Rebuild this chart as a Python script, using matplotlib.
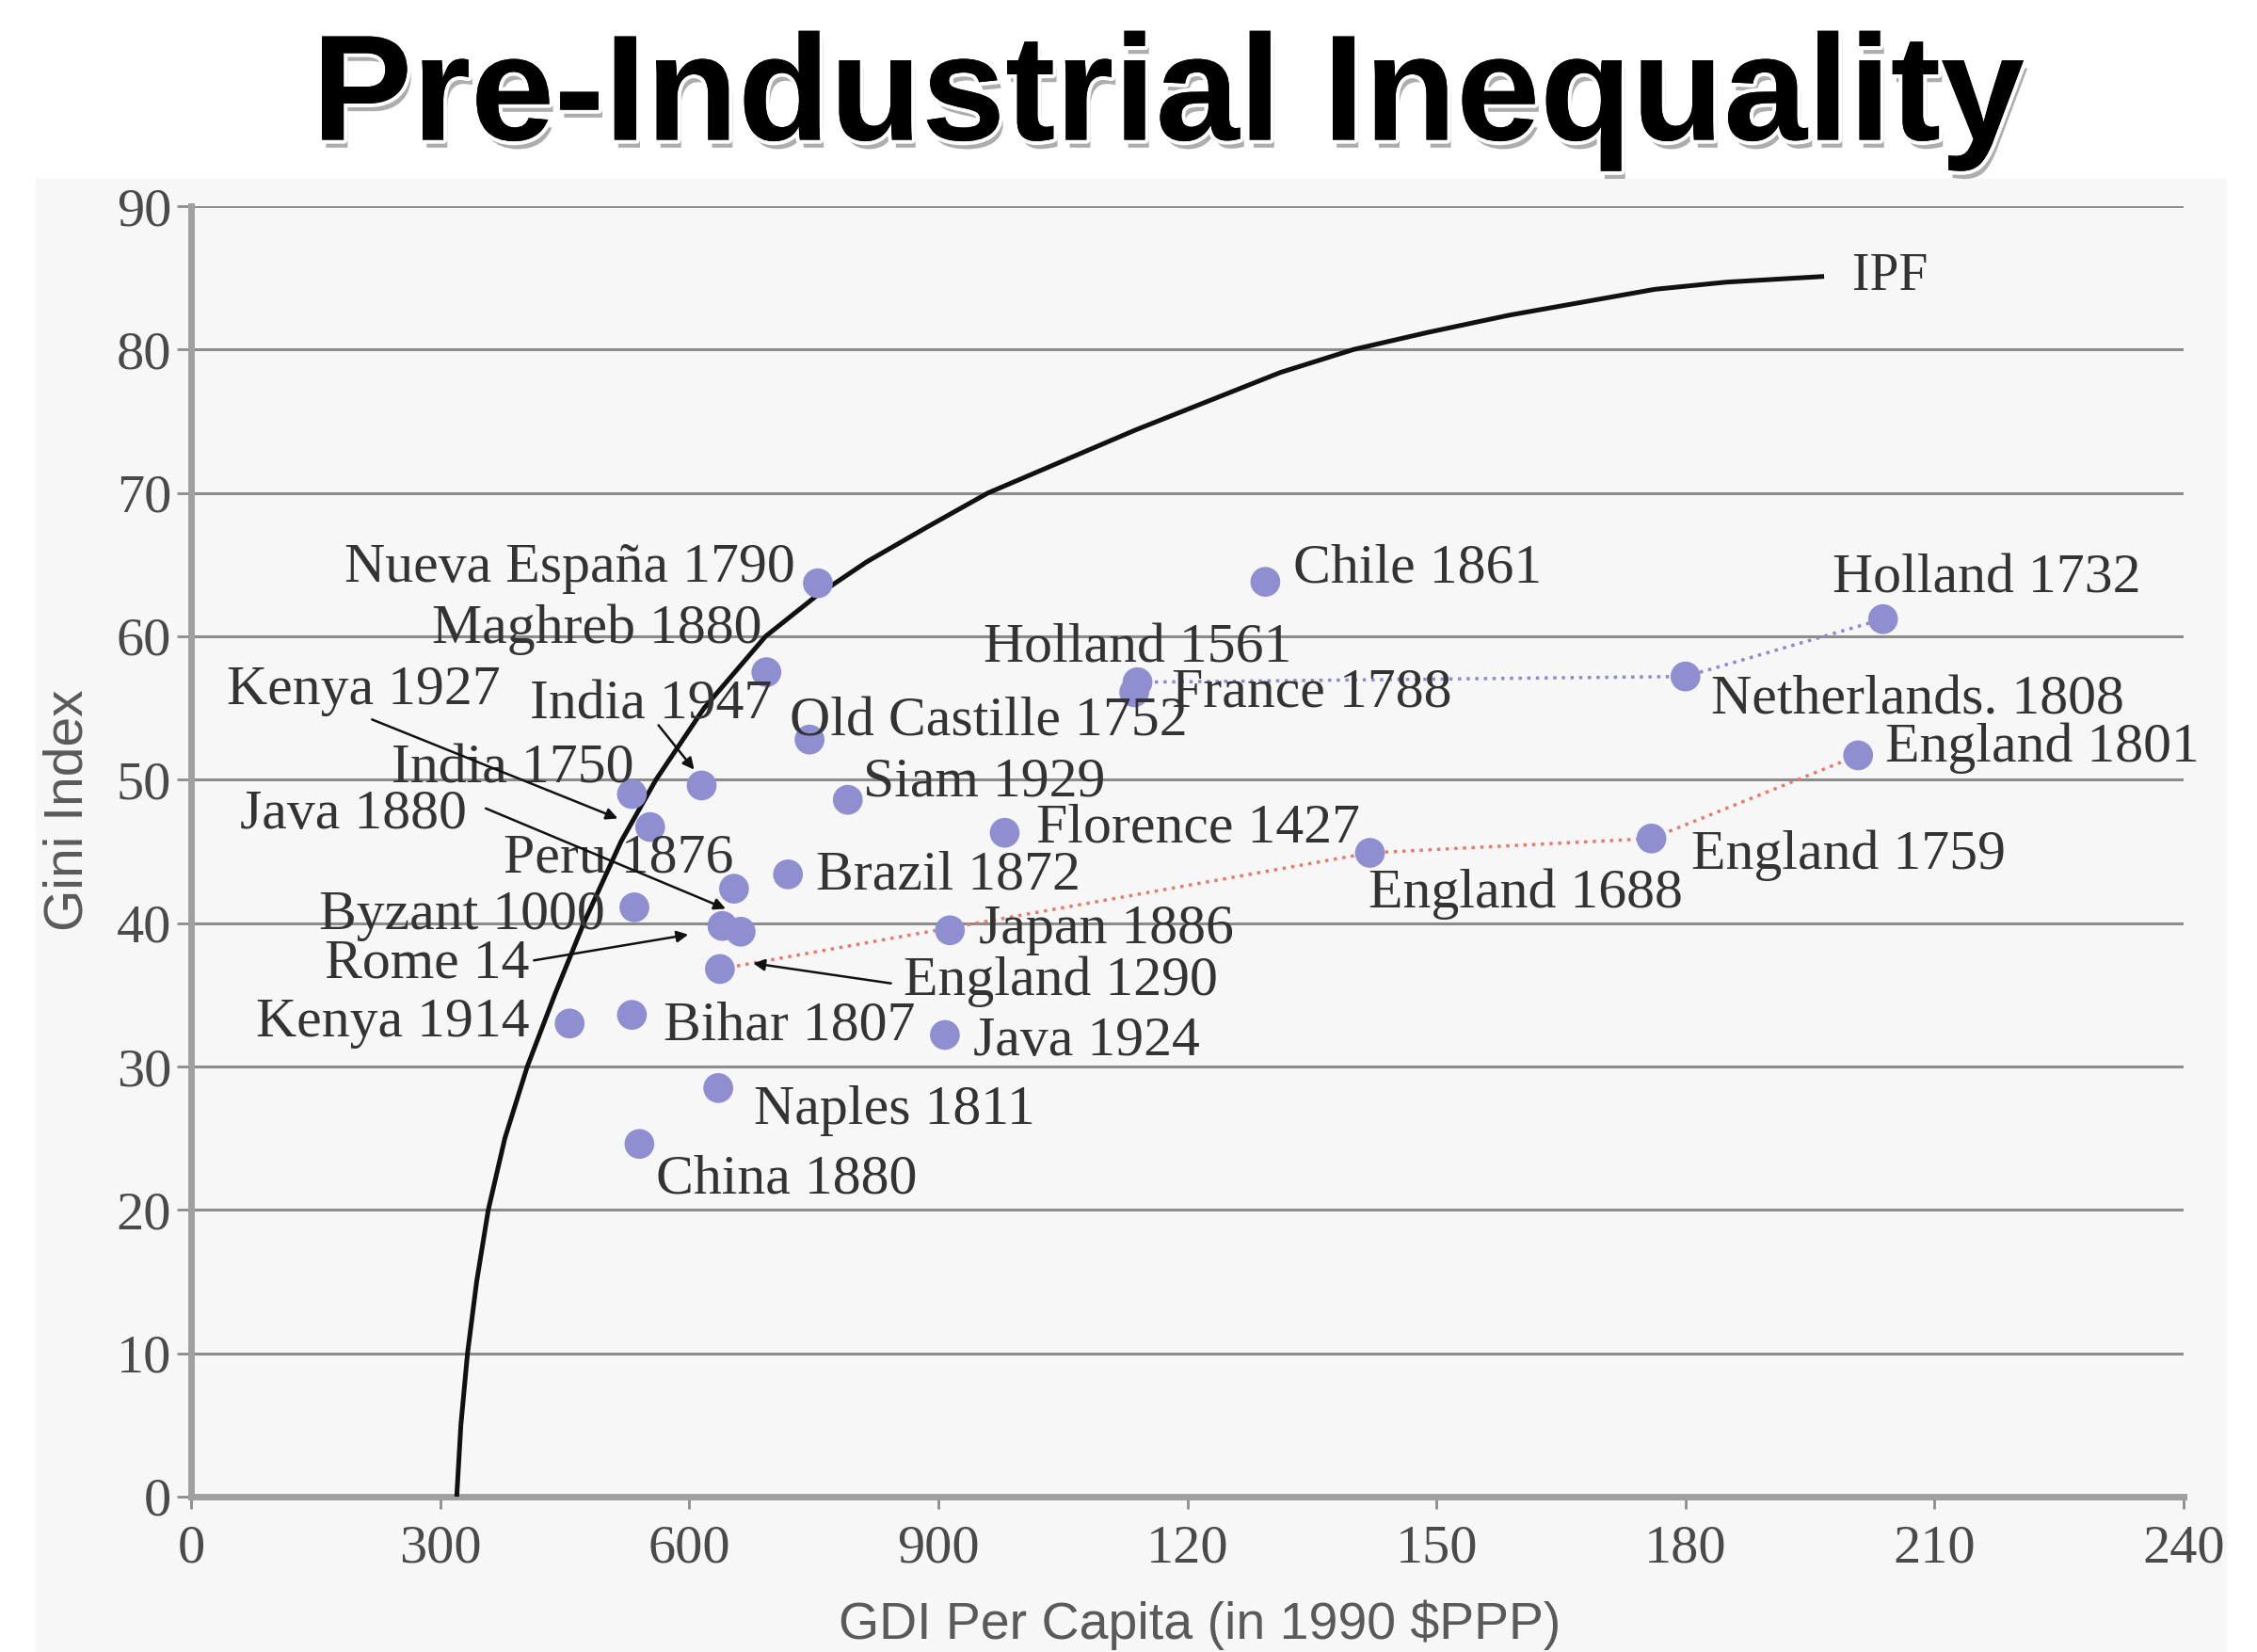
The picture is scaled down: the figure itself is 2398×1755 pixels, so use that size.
import matplotlib
matplotlib.use('Agg')
import matplotlib.pyplot as plt
import matplotlib.patheffects as pe
from matplotlib.patches import Rectangle

# data
names = ['Nueva España 1790', 'Maghreb 1880', 'Chile 1861', 'Holland 1732', 'Holland 1561',
         'France 1788', 'Netherlands. 1808', 'Old Castille 1752', 'India 1947', 'India 1750',
         'Kenya 1927', 'Siam 1929', 'Florence 1427', 'England 1801', 'England 1759',
         'England 1688', 'Peru 1876', 'Brazil 1872', 'Byzant 1000', 'Java 1880', 'Rome 14',
         'Japan 1886', 'England 1290', 'Kenya 1914', 'Bihar 1807', 'Java 1924',
         'Naples 1811', 'China 1880']
gdi = [755, 693, 1294, 2038, 1140, 1136, 1800, 745, 615, 531,
       553, 791, 980, 2008, 1759, 1420, 654, 719, 534, 640, 662,
       914, 637, 456, 531, 908, 635, 540]
gini = [63.7, 57.5, 63.8, 61.2, 56.8, 56.1, 57.2, 52.8, 49.6, 49.0,
        46.7, 48.6, 46.3, 51.7, 45.9, 44.9, 42.4, 43.4, 41.1, 39.8, 39.4,
        39.5, 36.8, 33.0, 33.6, 32.2, 28.5, 24.6]

# inequality possibility frontier
ipf_x = [320, 325, 333, 344, 358, 378, 405, 438, 473, 518, 560, 618, 692, 755, 814,
         889, 960, 1138, 1312, 1400, 1490, 1588, 1763, 1849, 1967]
ipf_y = [0, 5, 10, 15, 20, 25, 30, 35, 40, 45.7, 50, 55, 60, 62.9, 65.2,
         67.7, 70, 74.4, 78.4, 80, 81.2, 82.4, 84.2, 84.7, 85.1]

holland_path = ['Holland 1561', 'Netherlands. 1808', 'Holland 1732']
england_path = ['England 1290', 'England 1688', 'England 1759', 'England 1801']

x_ticks = [0, 300, 600, 900, 1200, 1500, 1800, 2100, 2400]
x_ticklabels = ['0', '300', '600', '900', '120', '150', '180', '210', '240']
y_ticks = [0, 10, 20, 30, 40, 50, 60, 70, 80, 90]

# label placement (text anchor, alignment)
label_pos = {
    'Nueva España 1790': (728, 64.7, 'right'),
    'Maghreb 1880': (688, 60.5, 'right'),
    'Chile 1861': (1328, 64.7, 'left'),
    'Holland 1732': (1977, 64.0, 'left'),
    'Holland 1561': (954, 59.1, 'left'),
    'France 1788': (1181, 56.0, 'left'),
    'Netherlands. 1808': (1831, 55.5, 'left'),
    'Old Castille 1752': (721, 54.0, 'left'),
    'India 1947': (408, 55.2, 'left'),
    'India 1750': (241, 50.7, 'left'),
    'Kenya 1927': (43, 56.2, 'left'),
    'Siam 1929': (810, 49.8, 'left'),
    'Florence 1427': (1018, 46.6, 'left'),
    'England 1801': (2041, 52.2, 'left'),
    'England 1759': (1807, 44.7, 'left'),
    'England 1688': (1418, 42.0, 'left'),
    'Peru 1876': (376, 44.5, 'left'),
    'Brazil 1872': (753, 43.3, 'left'),
    'Byzant 1000': (154, 40.5, 'left'),
    'Java 1880': (59, 47.5, 'left'),
    'Rome 14': (161, 37.1, 'left'),
    'Japan 1886': (949, 39.5, 'left'),
    'England 1290': (858, 35.9, 'left'),
    'Kenya 1914': (78, 33.0, 'left'),
    'Bihar 1807': (569, 32.8, 'left'),
    'Java 1924': (942, 31.7, 'left'),
    'Naples 1811': (678, 26.9, 'left'),
    'China 1880': (560, 22.1, 'left'),
}
# leader lines: start -> tip
arrows = [((218, 54.2), (514, 47.3)),
          ((563, 53.8), (606, 50.7)),
          ((355, 48.0), (644, 41.0)),
          ((413, 37.4), (599, 39.2)),
          ((843, 35.8), (677, 37.2))]

fig = plt.figure(figsize=(23.98, 17.55), dpi=100)
fig.patches.append(Rectangle((38 / 2398, 0), (2365 - 38) / 2398, 1 - 190 / 1755,
                             transform=fig.transFigure, color='#f7f7f7', zorder=-5))
ax = fig.add_axes([203 / 2398, 1 - 1590 / 1755, (2320 - 203) / 2398, (1590 - 219) / 1755])
ax.set_facecolor('#f7f7f7')

ax.set_xlim(0, 2400)
ax.set_ylim(0, 90)
ax.set_yticks(y_ticks)
ax.set_xticks(x_ticks)
ax.set_xticklabels(x_ticklabels)
ax.yaxis.grid(True, color='#8c8c8c', lw=2.2)
ax.set_axisbelow(True)
for s in ['top', 'right']:
    ax.spines[s].set_visible(False)
for s in ['left', 'bottom']:
    ax.spines[s].set_color('#a0a0a0')
    ax.spines[s].set_linewidth(5)
ax.tick_params(axis='y', length=11, width=2, color='#8c8c8c', pad=4,
               labelsize=42, labelcolor='#4a4a4a')
ax.tick_params(axis='x', length=9, width=2, color='#8c8c8c', pad=12,
               labelsize=42, labelcolor='#4a4a4a')
for lab in ax.get_xticklabels() + ax.get_yticklabels():
    lab.set_family('Liberation Serif')

ax.set_xlabel('GDI Per Capita (in 1990 $PPP)', family='Liberation Sans', fontsize=40,
              color='#5a5a5a')
ax.set_ylabel('Gini Index', family='Liberation Sans', fontsize=41, color='#5a5a5a')
ax.xaxis.set_label_coords(0.506, -0.080)
ax.yaxis.set_label_coords(-0.049, 0.532)

ax.plot(ipf_x, ipf_y, color='#111111', lw=3.6, zorder=4, solid_capstyle='butt',
        solid_joinstyle='round')
ax.text(2001, 85.1, 'IPF', family='Liberation Serif', fontsize=40, color='#333333',
        va='center', ha='left')

idx = {n: i for i, n in enumerate(names)}
ax.plot([gdi[idx[n]] for n in holland_path], [gini[idx[n]] for n in holland_path],
        ls=':', color='#8a8ad0', lw=2.5, zorder=3)
ax.plot([gdi[idx[n]] for n in england_path], [gini[idx[n]] for n in england_path],
        ls=':', color='#e87a6c', lw=2.5, zorder=3)

ax.scatter(gdi, gini, s=520, color='#8e8ed0', edgecolors='none', zorder=5)

for n in names:
    tx, ty, ha = label_pos[n]
    ax.text(tx, ty, n, family='Liberation Serif', fontsize=43, color='#333333',
            ha=ha, va='center', zorder=6)

for start, tip in arrows:
    ax.annotate('', xy=tip, xytext=start,
                arrowprops=dict(arrowstyle='-|>', color='#111111', lw=1.8,
                                mutation_scale=18, shrinkA=0, shrinkB=0), zorder=6)

fig.text(1241 / 2398, 1 - 107 / 1755, 'Pre-Industrial Inequality', family='Liberation Sans',
         fontweight='bold', fontsize=115, ha='center', va='center', color='black',
         path_effects=[pe.withSimplePatchShadow(offset=(3, -6), shadow_rgbFace='#777777', alpha=0.6),
                       pe.withStroke(linewidth=6, foreground='white'),
                       pe.Normal()])

fig.savefig('out.png', dpi=100)
